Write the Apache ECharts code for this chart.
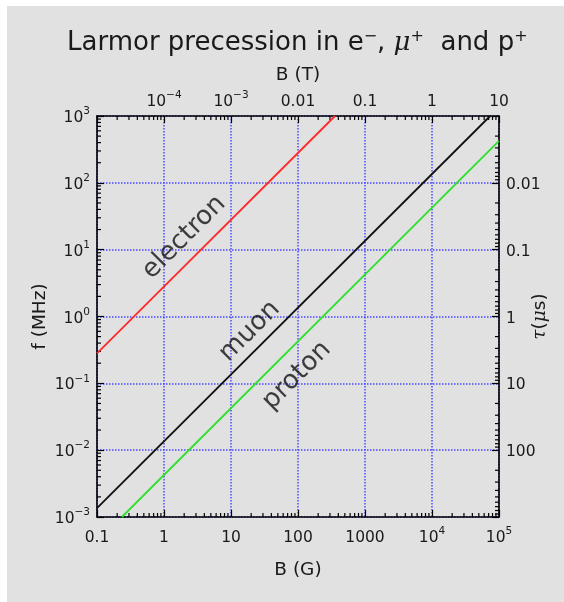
<!DOCTYPE html>
<html><head><meta charset="utf-8">
<script src="https://cdn.jsdelivr.net/npm/echarts@6/dist/echarts.min.js"></script>
<style>html,body{margin:0;padding:0;background:#fff;} #c{width:564px;height:602px;}</style>
</head><body><div id="c"></div>
<script>
// ---- data ----
const bGaussRange = [0.1, 1e5];          // B (G)
const bTeslaRange = [1e-5, 10];          // B (T)
const fRange = [1e-3, 1e3];              // f (MHz)
const electron = [[0.1, 0.28], [357, 1000]];
const muon = [[0.1, 0.00136], [73800, 1000]];
const proton = [[0.235, 0.001], [1e5, 426]];
const curveLabels = [[2.0, 15.3, 'electron'], [19, 0.6, 'muon'], [96, 0.13, 'proton']];
// tick labels indexed by decade exponent
const bottomTickLabels = {'-1':'0.1','0':'1','1':'10','2':'100','3':'1000','4':'10^4','5':'10^5'};
const topTickLabels = {'-5':'','-4':'10^−4','-3':'10^−3','-2':'0.01','-1':'0.1','0':'1','1':'10'};
const leftTickLabels = {'-3':'10^−3','-2':'10^−2','-1':'10^−1','0':'10^0','1':'10^1','2':'10^2','3':'10^3'};
const rightTickLabels = {'-3':'','-2':'100','-1':'10','0':'1','1':'0.1','2':'0.01','3':''};
const minorMultipliers = [2,3,4,5,6,7,8,9];

const FONT = 'DejaVu Sans';
const TXT = '#1a1a1a';
function rich(t){
  if(!t) return '';
  const i = t.indexOf('^');
  if(i<0) return '{n|'+t+'}';
  return '{n|'+t.slice(0,i)+'}{s|'+t.slice(i+1)+'}';
}
const richStyle = {
  n:{fontFamily:FONT,fontSize:15.5,color:TXT,verticalAlign:'bottom',lineHeight:20},
  s:{fontFamily:FONT,fontSize:10.5,color:TXT,verticalAlign:'bottom',lineHeight:20,padding:[0,0,9,0]}
};
function fmt(map){ return v => rich(map[String(Math.round(Math.log10(v)))]); }

// minor tick positions (built from decades)
const minorTicks = [];
for(let e=-1;e<5;e++) minorMultipliers.forEach(m=>{ const v=m*Math.pow(10,e); minorTicks.push([v, fRange[0], 0]); minorTicks.push([v, fRange[1], 1]); });
for(let e=-3;e<3;e++) minorMultipliers.forEach(m=>{ const v=m*Math.pow(10,e); minorTicks.push([bGaussRange[0], v, 2]); });
for(let e=-3;e<3;e++) minorMultipliers.forEach(m=>{ const tau=m*Math.pow(10,e); const f=1/tau; if(f>fRange[0]&&f<fRange[1]) minorTicks.push([bGaussRange[1], f, 3]); });

const axisLine = {show:true, lineStyle:{color:'#000', width:1.6}};
const grid = {left:97, top:116, width:402, height:401, outerBoundsMode:'none', containLabel:false};
const chart = echarts.init(document.getElementById('c'), null, {renderer:'canvas'});
chart.setOption({
  animation:false,
  backgroundColor:'#ffffff',
  graphic:[{type:'rect', z:-100, silent:true, shape:{x:7,y:6,width:557,height:596}, style:{fill:'#e1e1e1'}}],
  title:{
    text:'{t|Larmor precession in e}{s|−}{t|, }{m|μ}{s|+}{t|  and p}{s|+}',
    left:62, top:20,
    textStyle:{fontWeight:'normal', rich:{
      t:{fontFamily:FONT,fontWeight:'normal',fontSize:26,color:TXT,verticalAlign:'bottom',lineHeight:31},
      m:{fontFamily:'DejaVu Serif',fontWeight:'normal',fontStyle:'italic',fontSize:26,color:TXT,verticalAlign:'bottom',lineHeight:31},
      s:{fontFamily:FONT,fontWeight:'normal',fontSize:16,color:TXT,verticalAlign:'bottom',lineHeight:31,padding:[0,0,11,0]}
    }}
  },
  grid:grid,
  xAxis:[
    {type:'log', logBase:10, min:bGaussRange[0], max:bGaussRange[1], position:'bottom', gridIndex:0,
     name:'B (G)', nameLocation:'middle', nameGap:44, nameTextStyle:{fontFamily:FONT,fontSize:18.5,color:TXT},
     axisLine:axisLine, axisTick:{show:true,inside:true,length:7,lineStyle:{color:'#000',width:1.2}},
     axisLabel:{margin:9, formatter:fmt(bottomTickLabels), rich:richStyle, showMinLabel:true, showMaxLabel:true},
     splitLine:{show:true, lineStyle:{color:'#4a4aff', width:1.5, type:[1.5,1.5]}}, minorTick:{show:false}},
    {type:'log', logBase:10, min:bTeslaRange[0], max:bTeslaRange[1], position:'top', gridIndex:0,
     name:'B (T)', nameLocation:'middle', nameGap:31, nameTextStyle:{fontFamily:FONT,fontSize:18.5,color:TXT},
     axisLine:axisLine, axisTick:{show:true,inside:true,length:7,lineStyle:{color:'#000',width:1.2}},
     axisLabel:{margin:6, formatter:fmt(topTickLabels), rich:richStyle, showMinLabel:true, showMaxLabel:true},
     splitLine:{show:false}}
  ],
  yAxis:[
    {type:'log', logBase:10, min:fRange[0], max:fRange[1], position:'left', gridIndex:0,
     name:'f (MHz)', nameLocation:'middle', nameGap:47, nameRotate:90, nameMoveOverlap:false,
     nameTextStyle:{fontFamily:FONT,fontSize:18.5,color:TXT},
     axisLine:axisLine, axisTick:{show:true,inside:true,length:7,lineStyle:{color:'#000',width:1.2}},
     axisLabel:{margin:7, formatter:fmt(leftTickLabels), rich:richStyle, showMinLabel:true, showMaxLabel:true},
     splitLine:{show:true, lineStyle:{color:'#4a4aff', width:1.5, type:[1.5,1.5]}}},
    {type:'log', logBase:10, min:fRange[0], max:fRange[1], position:'right', gridIndex:0,
     name:'{m|τ}{n|(}{m|μ}{n|s)}', nameLocation:'middle', nameGap:32, nameRotate:90, nameMoveOverlap:false,
     nameTextStyle:{rich:{n:{fontFamily:FONT,fontSize:18.5,color:TXT}, m:{fontFamily:'DejaVu Serif',fontStyle:'italic',fontSize:18.5,color:TXT}}},
     axisLine:axisLine, axisTick:{show:true,inside:true,length:7,lineStyle:{color:'#000',width:1.2}},
     axisLabel:{margin:7, formatter:fmt(rightTickLabels), rich:richStyle, showMinLabel:true, showMaxLabel:true},
     splitLine:{show:false}}
  ],
  series:[
    {type:'line', name:'electron', data:electron, showSymbol:false, symbol:'none', lineStyle:{color:'#ff2a2a', width:1.8}, z:5},
    {type:'line', name:'muon', data:muon, showSymbol:false, symbol:'none', lineStyle:{color:'#111', width:1.8}, z:5},
    {type:'line', name:'proton', data:proton, showSymbol:false, symbol:'none', lineStyle:{color:'#2ee02e', width:1.8}, z:5},
    {type:'scatter', data:curveLabels, symbolSize:0, silent:true, z:6,
     label:{show:true, position:'inside', rotate:45, formatter:p=>p.data[2], fontFamily:FONT, fontSize:26, color:'#111', textBorderWidth:0}},
    {type:'custom', data:minorTicks, silent:true, z:4, clip:false,
     renderItem:function(params, api){
       const side = api.value(2);
       const p = api.coord([api.value(0), api.value(1)]);
       const L = 4;
       let s;
       if(side===0) s={x1:p[0],y1:p[1],x2:p[0],y2:p[1]-L};
       else if(side===1) s={x1:p[0],y1:p[1],x2:p[0],y2:p[1]+L};
       else if(side===2) s={x1:p[0],y1:p[1],x2:p[0]+L,y2:p[1]};
       else s={x1:p[0],y1:p[1],x2:p[0]-L,y2:p[1]};
       return {type:'line', shape:s, style:{stroke:'#000', lineWidth:1.2}};
     }}
  ]
});
</script></body></html>
